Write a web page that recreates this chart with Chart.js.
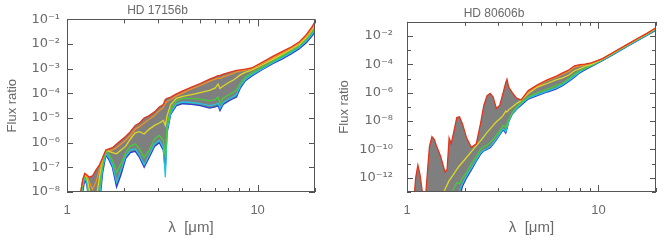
<!DOCTYPE html>
<html>
<head>
<meta charset="utf-8">
<script src="https://cdn.jsdelivr.net/npm/chart.js@4.4.1/dist/chart.umd.min.js"></script>
<style>
  html, body { margin: 0; padding: 0; background: #fff; }
  #wrap { position: relative; width: 664px; height: 247px; }
  .panel { position: absolute; top: 0; width: 332px; height: 247px; }
</style>
</head>
<body>
<div id="wrap">
  <div class="panel" style="left:0"><canvas id="leftChart" width="332" height="247"></canvas></div>
  <div class="panel" style="left:332px"><canvas id="rightChart" width="332" height="247"></canvas></div>
</div>
<script>
// ---- data (flux ratios are stored as log10 exponents) ----
const xTickLabels = [1, 10];
const xMinorTicks = [2, 3, 4, 5, 6, 7, 8, 9, 20];

// HD 17156b
const leftWave = [1.15, 1.18, 1.21, 1.24, 1.27, 1.31, 1.36, 1.42, 1.48, 1.54,
                  1.60, 1.66, 1.73, 1.82, 1.92, 2.03, 2.15, 2.28, 2.40, 2.54,
                  2.70, 2.88, 3.05, 3.20, 3.28, 3.35, 3.50, 3.75, 4.05, 4.50,
                  5.00, 5.60, 6.00, 6.20, 6.35, 6.60, 7.10, 7.50, 7.75, 8.10,
                  8.60, 9.30, 10.5, 12.0, 13.5, 15.0, 16.5, 18.0, 19.2, 20.0];
const leftRed = [-9.5, -8.0, -7.5, -7.25, -7.3, -7.4, -7.35, -7.1, -6.9, -6.6,
                 -6.3, -6.25, -6.2, -6.05, -5.9, -5.75, -5.55, -5.3, -5.2, -5.0,
                 -4.9, -4.75, -4.55, -4.45, -4.25, -4.2, -4.15, -4.02, -3.9, -3.75,
                 -3.6, -3.42, -3.33, -3.28, -3.27, -3.22, -3.15, -3.1, -3.07, -3.05,
                 -3.02, -2.97, -2.75, -2.5, -2.3, -2.12, -1.92, -1.62, -1.32, -1.1];
const leftOrange = [-9.5, -8.0, -7.5, -7.27, -7.35, -7.6, -7.9, -7.6, -7.1, -6.6,
                    -6.3, -6.3, -6.3, -6.2, -6.05, -5.9, -5.7, -5.45, -5.35, -5.2,
                    -5.05, -4.9, -4.7, -4.58, -4.4, -4.33, -4.25, -4.1, -3.98, -3.82,
                    -3.68, -3.5, -3.42, -3.38, -3.4, -3.33, -3.25, -3.18, -3.13, -3.1,
                    -3.06, -3.0, -2.8, -2.56, -2.35, -2.16, -1.96, -1.68, -1.39, -1.17];
const leftYellow = [-9.5, -8.0, -7.5, -7.25, -7.4, -7.9, -8.6, -8.3, -7.4, -6.6,
                    -6.3, -6.35, -6.4, -6.45, -6.3, -6.15, -5.85, -5.6, -5.55, -5.65,
                    -5.45, -5.3, -5.2, -5.1, -5.3, -4.9, -4.45, -4.2, -4.12, -4.05,
                    -3.97, -3.88, -3.78, -3.62, -3.8, -3.7, -3.55, -3.45, -3.37, -3.25,
                    -3.15, -3.06, -2.86, -2.62, -2.41, -2.21, -2.02, -1.74, -1.45, -1.24];
const leftGreen = [-9.5, -8.2, -7.6, -7.3, -7.5, -8.1, -9.0, -8.8, -7.8, -6.8,
                   -6.35, -6.5, -6.7, -7.2, -6.85, -6.4, -6.15, -6.05, -6.25, -6.6,
                   -6.3, -5.85, -5.7, -5.9, -6.6, -5.3, -4.65, -4.3, -4.2, -4.2,
                   -4.23, -4.3, -4.25, -4.15, -4.4, -4.2, -4.05, -3.95, -3.85, -3.6,
                   -3.35, -3.18, -2.95, -2.7, -2.48, -2.28, -2.08, -1.8, -1.53, -1.32];
const leftCyan = [-9.5, -8.5, -7.8, -7.4, -7.6, -8.4, -9.5, -9.3, -8.2, -7.0,
                  -6.45, -6.6, -6.9, -7.6, -7.1, -6.55, -6.3, -6.25, -6.5, -6.9,
                  -6.5, -6.05, -5.9, -6.2, -7.4, -5.5, -4.8, -4.42, -4.35, -4.37,
                  -4.42, -4.5, -4.45, -4.4, -4.6, -4.37, -4.22, -4.12, -4.05, -3.72,
                  -3.45, -3.25, -3.02, -2.76, -2.55, -2.35, -2.14, -1.88, -1.63, -1.42];
const leftBlue = [-9.5, -8.7, -8.0, -7.5, -7.7, -8.6, -9.5, -9.5, -8.5, -7.2,
                  -6.5, -6.7, -7.0, -7.8, -7.3, -6.65, -6.4, -6.35, -6.6, -7.0,
                  -6.6, -6.15, -6.0, -6.3, -7.1, -5.6, -4.85, -4.5, -4.42, -4.45,
                  -4.5, -4.6, -4.55, -4.5, -4.7, -4.45, -4.3, -4.2, -4.15, -3.8,
                  -3.5, -3.3, -3.05, -2.8, -2.6, -2.4, -2.2, -1.95, -1.7, -1.5];
const leftYTicks = [-8, -7, -6, -5, -4, -3, -2, -1];
const leftYMinor = [];

// HD 80606b
const rightWave = [1.08, 1.11, 1.14, 1.17, 1.20, 1.24, 1.28, 1.31, 1.35, 1.39,
                   1.43, 1.50, 1.58, 1.62, 1.66, 1.70, 1.76, 1.82, 1.88, 1.95,
                   2.05, 2.17, 2.30, 2.42, 2.52, 2.62, 2.72, 2.82, 2.93, 3.05,
                   3.18, 3.28, 3.33, 3.40, 3.55, 3.75, 3.95, 4.30, 4.80, 5.40,
                   6.00, 6.50, 7.00, 7.50, 8.00, 8.50, 9.20, 10.5, 12.0, 14.0,
                   16.0, 18.0, 20.0];
const rightRed = [-14, -12.0, -11.1, -11.8, -12.9, -14, -11.5, -9.8, -9.1, -9.3,
                  -9.8, -10.5, -11.6, -11.4, -9.2, -9.6, -8.7, -7.75, -7.7, -8.2,
                  -9.2, -9.85, -9.6, -8.2, -6.9, -6.2, -6.05, -6.3, -7.1, -6.9,
                  -6.0, -5.3, -5.05, -5.6, -6.0, -6.4, -6.5, -5.85, -5.45, -5.1,
                  -4.85, -4.6, -4.4, -4.1, -4.02, -3.98, -3.9, -3.6, -3.15, -2.63,
                  -2.18, -1.8, -1.42];
const rightOrange = [null, null, null, null, null, null, null, null, null, null,
                     null, null, null, null, null, null, null, null, null, null,
                     null, null, null, null, null, null, null, null, null, null,
                     null, null, null, null, null, null, -6.55, -5.9, -5.5, -5.15,
                     -4.9, -4.7, -4.5, -4.2, -4.1, -4.02, -3.92, -3.61, -3.16, -2.65,
                     -2.2, -1.82, -1.43];
const rightYellow = [-14, -14, -14, -14, -14, -14, -14, -14, -14, -14,
                     -14, -13.6, -12.8, -12.5, -12.2, -12.0, -11.7, -11.4, -11.15, -10.9,
                     -10.55, -10.15, -9.75, -9.4, -9.1, -8.8, -8.55, -8.3, -8.05, -7.85,
                     -7.6, -7.3, -7.35, -7.2, -7.0, -6.75, -6.55, -6.05, -5.6, -5.35,
                     -5.1, -4.95, -4.75, -4.45, -4.3, -4.15, -4.0, -3.63, -3.18, -2.66,
                     -2.21, -1.83, -1.45];
const rightGreen = [-14, -14, -14, -14, -14, -14, -14, -14, -14, -14,
                    -14, -14, -14, -14, -13.6, -13.2, -12.7, -12.35, -12.4, -12.0,
                    -11.6, -11.0, -10.5, -10.0, -9.8, -9.7, -9.5, -9.3, -9.0, -8.7,
                    -8.3, -8.45, -8.2, -7.9, -7.4, -7.0, -6.7, -6.3, -6.0, -5.75,
                    -5.5, -5.35, -5.0, -4.7, -4.45, -4.3, -4.05, -3.67, -3.21, -2.7,
                    -2.25, -1.87, -1.5];
const rightCyan = [-14, -14, -14, -14, -14, -14, -14, -14, -14, -14,
                   -14, -14, -14, -14, -14, -14, -14, -13.5, -12.9, -12.4,
                   -11.85, -11.3, -10.75, -10.25, -10.05, -9.95, -9.8, -9.55, -9.25, -8.9,
                   -8.55, -8.75, -8.45, -8.0, -7.45, -7.1, -6.8, -6.38, -6.13, -5.88,
                   -5.68, -5.43, -5.13, -4.83, -4.53, -4.33, -4.1, -3.71, -3.26, -2.74,
                   -2.29, -1.91, -1.55];
const rightBlue = [-14, -14, -14, -14, -14, -14, -14, -14, -14, -14,
                   -14, -14, -14, -14, -14, -14, -14, -14, -13.4, -12.6,
                   -12.0, -11.45, -10.85, -10.35, -10.1, -10.0, -9.88, -9.62, -9.32, -8.97,
                   -8.62, -8.85, -8.55, -8.05, -7.5, -7.15, -6.88, -6.45, -6.2, -5.95,
                   -5.75, -5.5, -5.2, -4.9, -4.6, -4.4, -4.15, -3.75, -3.3, -2.78,
                   -2.33, -1.95, -1.6];
const rightYTicks = [-12, -10, -8, -6, -4, -2];
const rightYMinor = [-13, -11, -9, -7, -5, -3, -1];

// ---- drawing ----
const lineColors = ['#e0341c', '#f39022', '#dcd824', '#46cc3a', '#22c4dc', '#2a40d2'];
const textColor = '#6a6a6a';
const sup = { '-': '\u207B', '0': '\u2070', '1': '\u00B9', '2': '\u00B2', '3': '\u00B3',
              '4': '\u2074', '5': '\u2075', '6': '\u2076', '7': '\u2077', '8': '\u2078', '9': '\u2079' };
const powLabel = e => '10' + String(e).split('').map(c => sup[c]).join('');

// IDL-style box with inward ticks on all four sides
const frameTicks = {
  id: 'frameTicks',
  afterDatasetsDraw(chart, args, opts) {
    const { ctx, chartArea: a, scales: { x, y } } = chart;
    ctx.save();
    ctx.strokeStyle = '#555';
    ctx.lineWidth = 1;
    ctx.strokeRect(Math.round(a.left) + 0.5, Math.round(a.top) + 0.5,
                   Math.round(a.width) - 1, Math.round(a.height) - 1);
    ctx.beginPath();
    const xt = (v, len) => {
      const p = Math.round(x.getPixelForValue(v)) + 0.5;
      ctx.moveTo(p, a.bottom); ctx.lineTo(p, a.bottom - len);
      ctx.moveTo(p, a.top); ctx.lineTo(p, a.top + len);
    };
    const yt = (e, len) => {
      const p = Math.round(y.getPixelForValue(Math.pow(10, e))) + 0.5;
      ctx.moveTo(a.left, p); ctx.lineTo(a.left + len, p);
      ctx.moveTo(a.right, p); ctx.lineTo(a.right - len, p);
    };
    xTickLabels.forEach(v => xt(v, 7));
    xMinorTicks.forEach(v => xt(v, 4));
    opts.yMajor.forEach(e => yt(e, 6));
    opts.yMinor.forEach(e => yt(e, 4));
    ctx.stroke();
    ctx.restore();
  }
};

function makeChart(id, cfg) {
  const series = [cfg.red, cfg.orange, cfg.yellow, cfg.green, cfg.cyan, cfg.blue];
  const datasets = series.map((s, i) => ({
    data: cfg.wave.map((w, k) => ({ x: w, y: s[k] === null ? null : Math.pow(10, s[k]) })),
    borderColor: lineColors[i],
    backgroundColor: '#7f7f7f',
    borderWidth: 1.3,
    pointRadius: 0,
    tension: 0,
    fill: i === 0 ? series.length - 1 : false
  }));

  return new Chart(document.getElementById(id), {
    type: 'line',
    data: { datasets },
    plugins: [frameTicks],
    options: {
      responsive: false,
      animation: false,
      layout: { padding: { left: 0, right: cfg.padRight, top: 0, bottom: 0 } },
      scales: {
        x: {
          type: 'logarithmic', min: 1, max: 20,
          grid: { display: false, drawTicks: false },
          border: { display: false },
          afterBuildTicks: s => { s.ticks = xTickLabels.map(v => ({ value: v })); },
          afterFit: s => { s.height = 55; },
          ticks: { color: textColor, font: { family: 'Liberation Sans', size: 13 }, padding: 11,
                   maxRotation: 0, autoSkip: false, callback: v => String(v) },
          title: { display: true, text: '\u03BB  [\u03BCm]', color: textColor,
                   font: { family: 'Liberation Sans', size: 15 }, padding: { top: 0, bottom: 10 } }
        },
        y: {
          type: 'logarithmic', min: Math.pow(10, cfg.yMin), max: Math.pow(10, cfg.yMax),
          grid: { display: false, drawTicks: false },
          border: { display: false },
          afterBuildTicks: s => { s.ticks = cfg.yTicks.map(e => ({ value: Math.pow(10, e) })); },
          afterFit: s => { s.width = cfg.axisWidth; },
          ticks: { color: textColor, font: { family: 'DejaVu Sans', size: 13 }, padding: cfg.labelPad,
                   autoSkip: false, callback: v => powLabel(Math.round(Math.log10(v))) },
          title: { display: true, text: 'Flux ratio', color: textColor,
                   font: { family: 'Liberation Sans', size: 13 }, padding: { top: 5, bottom: 0 } }
        }
      },
      plugins: {
        legend: { display: false },
        tooltip: { enabled: false },
        filler: { drawTime: 'beforeDatasetsDraw' },
        title: { display: true, text: cfg.title, color: textColor,
                 font: { family: 'Liberation Sans', size: 12, weight: 'normal' },
                 padding: { top: 3, bottom: cfg.titleGap } },
        frameTicks: { yMajor: cfg.yTicks, yMinor: cfg.yMinor }
      }
    }
  });
}

makeChart('leftChart', {
  title: 'HD 17156b', wave: leftWave,
  red: leftRed, orange: leftOrange, yellow: leftYellow, green: leftGreen, cyan: leftCyan, blue: leftBlue,
  yMin: -8, yMax: -1, yTicks: leftYTicks, yMinor: leftYMinor,
  axisWidth: 67, labelPad: 7, padRight: 17, titleGap: 2
});

makeChart('rightChart', {
  title: 'HD 80606b', wave: rightWave,
  red: rightRed, orange: rightOrange, yellow: rightYellow, green: rightGreen, cyan: rightCyan, blue: rightBlue,
  yMin: -13, yMax: -1, yTicks: rightYTicks, yMinor: rightYMinor,
  axisWidth: 75, labelPad: 14, padRight: 8, titleGap: 1
});
</script>
</body>
</html>
